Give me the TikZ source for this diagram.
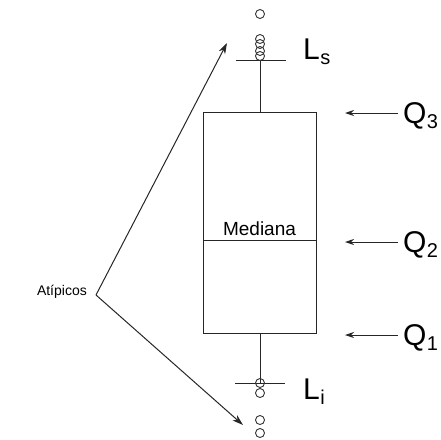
\documentclass[tikz,border=0pt]{standalone}
\usepackage{fontspec}
\setmainfont{Liberation Sans}
\usetikzlibrary{arrows.meta}
\begin{document}
\begin{tikzpicture}[x=1pt,y=1pt,
  ln/.style={draw=black!85,line width=1pt},
  outl/.style={circle,draw=black!80,line width=0.9pt,minimum size=9pt,inner sep=0pt},
  qarrow/.style={draw=black!85,line width=1pt,-{Stealth[length=9pt,width=6pt]}},
  aarrow/.style={draw=black!85,line width=1pt,-{Stealth[length=11pt,width=7pt]}},
  big/.style={font=\fontsize{30}{32}\selectfont,inner sep=0pt,anchor=base west},
  sub/.style={font=\fontsize{20}{22}\selectfont,inner sep=0pt,anchor=base west},
  small/.style={font=\fontsize{14}{16}\selectfont,inner sep=0pt}]
\useasboundingbox (0,-439) rectangle (441,0);
% box
\node[ln,minimum width=113pt,minimum height=221pt,inner sep=0pt,anchor=north west] (box) at (203,-112) {};
\coordinate (ml) at (203,-240);
\coordinate (mr) at (316,-240);
\draw[ln] (ml) -- (mr);
\node[font=\fontsize{19}{21}\selectfont,inner sep=0pt] (med) at (259.5,-229) {Mediana};
% whiskers
\coordinate (capT) at (260,-60);
\coordinate (capB) at (260,-383);
\draw[ln] (box.north) -- (capT);
\draw[ln] (box.south) -- (capB);
\coordinate (capTl) at (236,-60); \coordinate (capTr) at (286,-60);
\coordinate (capBl) at (235,-383); \coordinate (capBr) at (285,-383);
\draw[ln] (capTl) -- (capTr);
\draw[ln] (capBl) -- (capBr);
% outliers
\node[outl] (o1) at (260,-14) {};
\node[outl] (o2) at (260,-39) {};
\node[outl] (o3) at (260,-44) {};
\node[outl] (o4) at (260,-51) {};
\node[outl] (o5) at (260,-56) {};
\node[outl] (u1) at (260,-383) {};
\node[outl] (u2) at (260,-393) {};
\node[outl] (u3) at (260,-420) {};
\node[outl] (u4) at (260,-433) {};
% labels L
\node[big] (Ls) at (303,-59) {L};
\node[sub] (Lss) at ([yshift=-5pt]Ls.base east) {s};
\node[big] (Li) at (303,-399) {L};
\node[sub] (Lis) at ([yshift=-5pt]Li.base east) {i};
% Q labels
\node[big] (Q3) at (403,-123) {Q};
\node[sub] (Q3s) at ([yshift=-5pt]Q3.base east) {3};
\node[big] (Q2) at (403,-252) {Q};
\node[sub] (Q2s) at ([yshift=-5pt]Q2.base east) {2};
\node[big] (Q1) at (403,-345) {Q};
\node[sub] (Q1s) at ([yshift=-5pt]Q1.base east) {1};
\coordinate (q3s) at (398,-113); \coordinate (q3e) at (345,-113);
\coordinate (q2s) at (398,-242); \coordinate (q2e) at (345,-242);
\coordinate (q1s) at (398,-335); \coordinate (q1e) at (345,-335);
\draw[qarrow] (q3s) -- (q3e);
\draw[qarrow] (q2s) -- (q2e);
\draw[qarrow] (q1s) -- (q1e);
% atipicos
\node[small,anchor=east] (at) at (87,-292) {Atípicos};
\coordinate (v) at (96,-295);
\coordinate (tTop) at (227,-43);
\coordinate (tBot) at (243,-425);
\draw[aarrow] (v) -- (tTop);
\draw[aarrow] (v) -- (tBot);
\end{tikzpicture}
\end{document}
